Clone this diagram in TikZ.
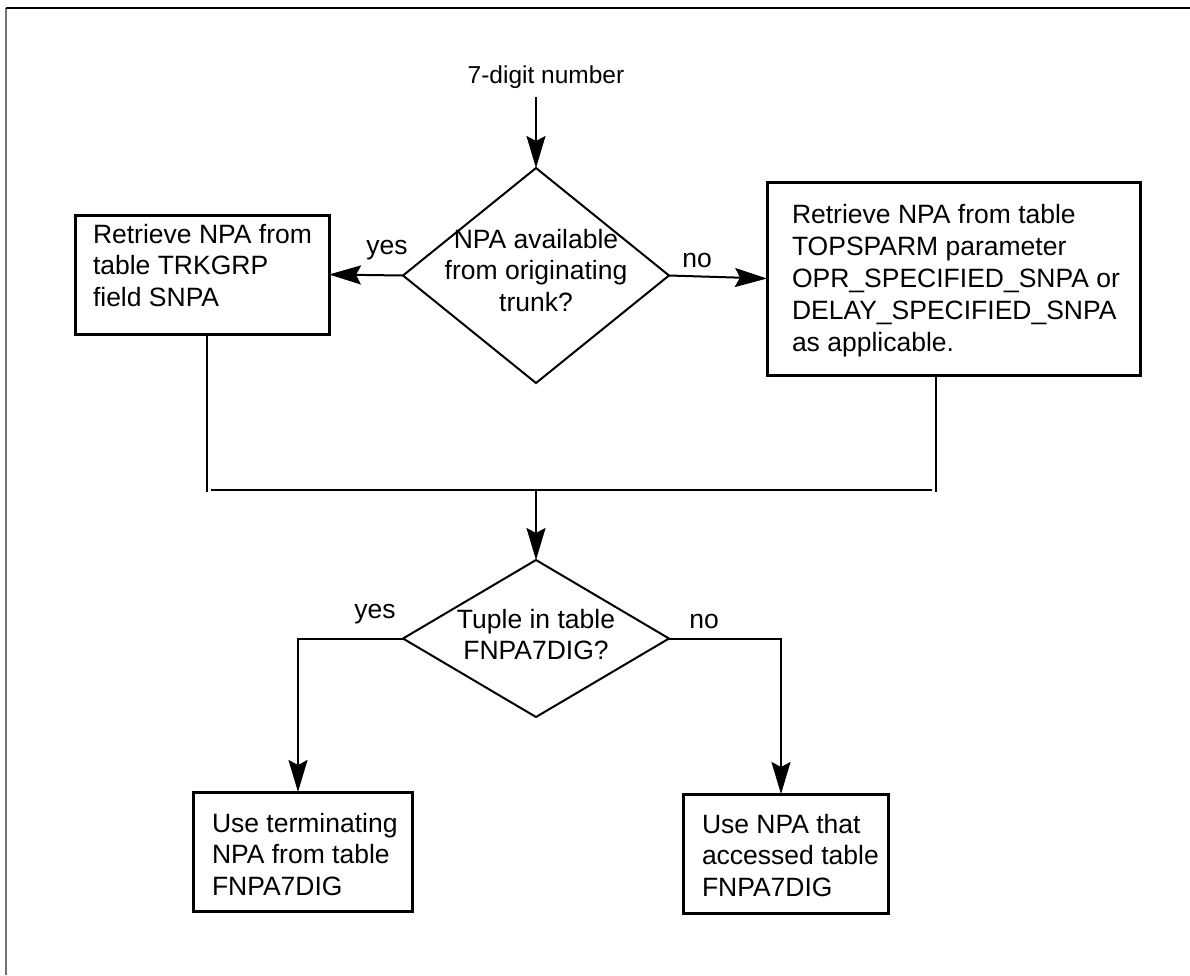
\documentclass[tikz,border=0pt]{standalone}
\usepackage{fontspec}
\setmainfont{Liberation Sans}
\usetikzlibrary{arrows.meta,shapes.geometric}
\tikzset{
  boxnode/.style={draw, line width=3pt, inner sep=0pt, outer sep=0pt},
  txt/.style={font=\fontsize{26.5pt}{31.5pt}\selectfont, inner sep=0pt, outer sep=0pt, align=left},
  dec/.style={draw, shape=diamond, line width=2pt, inner sep=0pt, outer sep=0pt, minimum width=266pt},
  conn/.style={line width=2pt},
  arr/.style={conn, -{Stealth[length=32pt,width=19pt,inset=5pt]}},
}
\begin{document}
\begin{tikzpicture}[x=1pt,y=-1pt]
\useasboundingbox (0,0) rectangle (1190,975);
% partial frame
\coordinate (fTL) at (6,8);
\coordinate (fBL) at (6,975);
\coordinate (fTR) at (1190,8);
\draw[line width=2pt, black!55] (fBL) -- (fTL);
\draw[line width=2pt] (fTL) -- (fTR);

\node[txt, font=\fontsize{24.5pt}{29pt}\selectfont, anchor=base] (start) at (546,83) {7-digit number};

\node[dec, minimum height=215pt] (d1) at (536,275.5) {};
\node[txt, align=center, anchor=north] (d1t) at (536,229) {NPA available\\from originating\\trunk?};

\node[boxnode, minimum width=254pt, minimum height=119pt] (b1) at (202,274.5) {};
\node[txt, anchor=north west] (b1t) at (93,224) {Retrieve NPA from\\table TRKGRP\\field SNPA};

\node[boxnode, minimum width=373pt, minimum height=193pt] (b2) at (953.5,278.5) {};
\node[txt, font=\fontsize{26.5pt}{32pt}\selectfont, anchor=north west] (b2t) at (792,204) {Retrieve NPA from table\\TOPSPARM parameter\\OPR\_SPECIFIED\_SNPA or\\DELAY\_SPECIFIED\_SNPA\\as applicable.};

\node[dec, minimum height=157pt] (d2) at (536,638.5) {};
\node[txt, align=center, anchor=north] (d2t) at (536,609) {Tuple in table\\FNPA7DIG?};

\node[boxnode, minimum width=219pt, minimum height=119pt] (b3) at (302.5,851.5) {};
\node[txt, anchor=north west] (b3t) at (212,813) {Use terminating\\NPA from table\\FNPA7DIG};

\node[boxnode, minimum width=205pt, minimum height=119pt] (b4) at (785.5,853.5) {};
\node[txt, anchor=north west] (b4t) at (702,814) {Use NPA that\\accessed table\\FNPA7DIG};

\node[txt, anchor=base] (l1) at (387,254) {yes};
\node[txt, anchor=base] (l2) at (697,267) {no};
\node[txt, anchor=base] (l3) at (375,618) {yes};
\node[txt, anchor=base] (l4) at (704,628) {no};

% connectors
\coordinate (s0) at ([yshift=-9pt]start.south);
\draw[arr] (s0 -| d1.north) -- (d1.north);
\draw[arr] (d1.west) -- (b1.east);
\draw[arr] (d1.east) -- (b2.west);

\coordinate (m1) at (207,492);
\coordinate (m2) at (936,492);
\draw[conn] (b1.south -| m1) -- (m1);
\draw[conn] (b2.south -| m2) -- (m2);
\coordinate (h1) at (211,490);
\coordinate (h2) at (932,490);
\draw[conn] (h1) -- (h2);
\coordinate (mc) at (536,490);
\draw[arr] (mc) -- (d2.north);

\coordinate (y2) at (298,638.5);
\draw[arr] (d2.west) -- (y2) -- (y2 |- b3.north);
\coordinate (n2) at (781,638.5);
\draw[arr] (d2.east) -- (n2) -- (n2 |- b4.north);
\end{tikzpicture}
\end{document}
